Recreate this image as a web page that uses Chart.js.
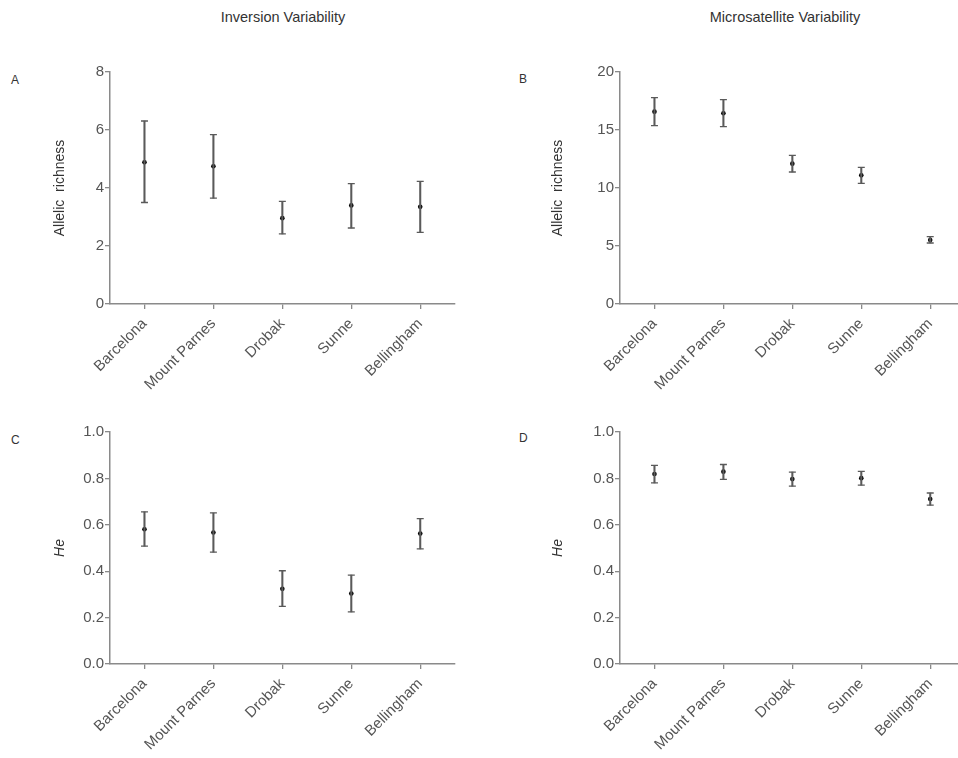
<!DOCTYPE html>
<html>
<head>
<meta charset="utf-8">
<script src="https://cdn.jsdelivr.net/npm/chart.js@4/dist/chart.umd.min.js"></script>
<style>
  html, body { margin: 0; overflow: hidden; background: #fff; }
  #wrap { width: 958px; height: 758px; overflow: hidden; position: relative; font-family: "Liberation Sans", Arial, sans-serif; }
  canvas { position: absolute; }
  .head { position: absolute; top: 9px; font-size: 14.5px; color: #333; white-space: nowrap; transform: translateX(-50%); }
  .letter { position: absolute; font-size: 12px; color: #333; }
</style>
</head>
<body>
<div id="wrap">
<div class="head" style="left:283px">Inversion Variability</div>
<div class="head" style="left:785px">Microsatellite Variability</div>
<div class="letter" style="left:11px;top:73px">A</div>
<div class="letter" style="left:519px;top:72px">B</div>
<div class="letter" style="left:11px;top:433px">C</div>
<div class="letter" style="left:519px;top:431px">D</div>
<canvas id="ChartA" width="460" height="344" style="left:0px;top:50px"></canvas>
<canvas id="ChartB" width="460" height="344" style="left:510px;top:50px"></canvas>
<canvas id="ChartC" width="460" height="344" style="left:0px;top:410px"></canvas>
<canvas id="ChartD" width="460" height="344" style="left:510px;top:410px"></canvas>
</div>
<script>
var Sites = ["Barcelona", "Mount Parnes", "Drobak", "Sunne", "Bellingham"]

// A: inversion allelic richness
var Inv_AR = [4.89, 4.75, 2.96, 3.40, 3.35]
var Inv_AR_Low = [3.50, 3.65, 2.42, 2.62, 2.47]
var Inv_AR_High = [6.31, 5.84, 3.54, 4.15, 4.23]

// B: microsatellite allelic richness
var Mic_AR = [16.58, 16.44, 12.10, 11.09, 5.52]
var Mic_AR_Low = [15.37, 15.29, 11.38, 10.40, 5.26]
var Mic_AR_High = [17.79, 17.61, 12.82, 11.78, 5.80]

// C: inversion He
var Inv_He = [0.581, 0.567, 0.324, 0.304, 0.562]
var Inv_He_Low = [0.508, 0.482, 0.248, 0.225, 0.496]
var Inv_He_High = [0.656, 0.651, 0.402, 0.383, 0.627]

// D: microsatellite He
var Mic_He = [0.819, 0.829, 0.797, 0.801, 0.711]
var Mic_He_Low = [0.781, 0.796, 0.767, 0.771, 0.685]
var Mic_He_High = [0.856, 0.860, 0.827, 0.830, 0.737]

var Axis_Color = "#8a8a8a", Label_Color = "#555", Bar_Color = "#5a5a5a"
var Font_Family = "'Liberation Sans', Arial, sans-serif"

function Make_Chart(id, mean, low, high, yMax, yStep, yTitle, italic, digits, titlePad){
  var ranges = []
  for (var i = 0; i < mean.length; i++){
    ranges.push([low[i], high[i]])
  }
  var capPoint = {
    type: "line",
    showLine: false,
    pointStyle: "line",
    pointRadius: 3.5,
    pointBorderWidth: 1.3,
    pointBorderColor: Bar_Color,
    pointBackgroundColor: Bar_Color
  }
  return new Chart(document.getElementById(id).getContext("2d"), {
    type: "bar",
    data: {
      labels: Sites,
      datasets: [
        { data: ranges, backgroundColor: Bar_Color, borderWidth: 0, barThickness: 1.4 },
        Object.assign({ data: high }, capPoint),
        Object.assign({ data: low }, capPoint),
        {
          type: "line",
          data: mean,
          showLine: false,
          pointStyle: "circle",
          pointRadius: 2.3,
          pointBorderWidth: 0,
          pointBackgroundColor: "#000"
        }
      ]
    },
    options: {
      responsive: false,
      animation: false,
      layout: { padding: { top: 22, right: 2, left: 0, bottom: 0 } },
      plugins: { legend: { display: false }, tooltip: { enabled: false } },
      scales: {
        x: {
          offset: true,
          grid: { display: true, offset: false, drawOnChartArea: false, drawTicks: true, tickLength: 5, color: Axis_Color, lineWidth: 1.3 },
          border: { display: true, color: Axis_Color, width: 1.5 },
          ticks: { minRotation: 45, maxRotation: 45, color: Label_Color, padding: 6, font: { size: 15, family: Font_Family } },
          afterFit: function(s){ s.height = 90 }
        },
        y: {
          min: 0,
          max: yMax,
          grid: { display: true, drawOnChartArea: false, drawTicks: true, tickLength: 5, color: Axis_Color, lineWidth: 1.3 },
          border: { display: true, color: Axis_Color, width: 1.5 },
          ticks: {
            stepSize: yStep,
            color: Label_Color,
            padding: 1,
            font: { size: 15, family: Font_Family },
            callback: function(v){ return v.toFixed(digits) }
          },
          title: {
            display: true,
            text: yTitle,
            color: "#333",
            padding: { top: titlePad, bottom: 0 },
            font: { size: 14, style: italic ? "italic" : "normal", family: Font_Family }
          },
          afterFit: function(s){ s.width = 110 }
        }
      }
    }
  })
}

Make_Chart("ChartA", Inv_AR, Inv_AR_Low, Inv_AR_High, 8, 2, "Allelic  richness", false, 0, 52)
Make_Chart("ChartB", Mic_AR, Mic_AR_Low, Mic_AR_High, 20, 5, "Allelic  richness", false, 0, 40)
Make_Chart("ChartC", Inv_He, Inv_He_Low, Inv_He_High, 1, 0.2, "He", true, 1, 52)
Make_Chart("ChartD", Mic_He, Mic_He_Low, Mic_He_High, 1, 0.2, "He", true, 1, 40)
</script>
</body>
</html>
